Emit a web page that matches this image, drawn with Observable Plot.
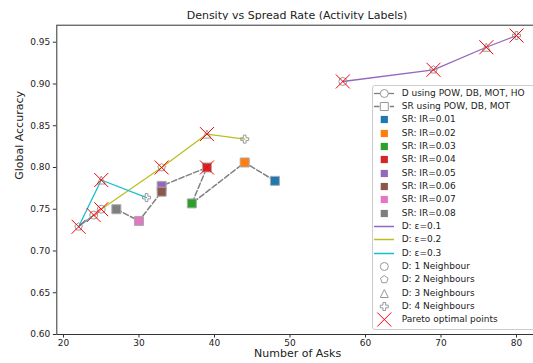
<!DOCTYPE html>
<html><head><meta charset="utf-8">
<script src="https://cdn.jsdelivr.net/npm/d3@7"></script>
<script src="https://cdn.jsdelivr.net/npm/@observablehq/plot@0.6"></script>
<style>
body{margin:0;overflow:hidden;background:white;font-family:"DejaVu Sans",sans-serif;}
#wrap{position:relative;width:533px;height:363px;overflow:hidden;background:white;}
#title{position:absolute;left:0;width:594px;top:9px;text-align:center;font-size:11px;line-height:13px;color:#222;}
#chart{position:absolute;left:0;top:20px;}
#legend{position:absolute;left:372px;top:85px;width:175px;height:243px;border:1px solid #ccc;border-radius:3px;background:rgba(255,255,255,0.85);}
.row{position:absolute;left:0;height:13px;font-size:9px;line-height:13px;color:#222;white-space:nowrap;}
.row svg{position:absolute;left:0;top:0;}
.row span{position:absolute;left:28.7px;top:0;}
</style></head><body>
<div id="wrap"><div id="title">Density vs Spread Rate (Activity Labels)</div><div id="chart"></div><div id="legend"></div></div>
<script>
// ---- data ----
const xTicks = [20, 30, 40, 50, 60, 70, 80];
const yTicks = [0.60, 0.65, 0.70, 0.75, 0.80, 0.85, 0.90, 0.95];

const irLabels = ["0.01", "0.02", "0.03", "0.04", "0.05", "0.06", "0.07", "0.08"];
const srColors = ["#1f77b4", "#ff7f0e", "#2ca02c", "#d62728", "#9467bd", "#8c564b", "#e377c2", "#7f7f7f"];
const srAsks = [48, 44, 37, 39, 33, 33, 30, 27];
const srAcc = [0.784, 0.806, 0.757, 0.800, 0.778, 0.771, 0.736, 0.750];

const epsLabels = ["0.1", "0.2", "0.3"];
const epsColors = ["#9467bd", "#bcbd22", "#17becf"];
const dAsksE1 = [57, 69, 76, 80];
const dAccE1 = [0.903, 0.917, 0.944, 0.958];
const dNbE1 = [1, 2, 3, 4];
const dAsksE2 = [25, 33, 39, 44];
const dAccE2 = [0.750, 0.800, 0.840, 0.834];
const dNbE2 = [1, 2, 3, 4];
const dAsksE3 = [24, 22, 25, 31];
const dAccE3 = [0.743, 0.729, 0.785, 0.764];
const dNbE3 = [1, 2, 3, 4];

const paretoAsks = [22, 24, 25, 25, 33, 39, 39, 57, 69, 76, 80];
const paretoAcc = [0.729, 0.743, 0.750, 0.785, 0.800, 0.840, 0.800, 0.903, 0.917, 0.944, 0.958];

const nbLabels = ["D: 1 Neighbour", "D: 2 Neighbours", "D: 3 Neighbours", "D: 4 Neighbours"];

// ---- symbols ----
const circleSym = {draw(ctx, size){const r = Math.sqrt(size/Math.PI); ctx.moveTo(r,0); ctx.arc(0,0,r,0,2*Math.PI); ctx.closePath();}};
const pentSym = {draw(ctx, size){const r = Math.sqrt(size/Math.PI); for(let i=0;i<5;i++){const a=-Math.PI/2+i*2*Math.PI/5; const x=r*Math.cos(a), y=r*Math.sin(a); if(i) ctx.lineTo(x,y); else ctx.moveTo(x,y);} ctx.closePath();}};
const triSym = {draw(ctx, size){const r = Math.sqrt(size/Math.PI); ctx.moveTo(0,-r); ctx.lineTo(r,r); ctx.lineTo(-r,r); ctx.closePath();}};
const plusSym = {draw(ctx, size){const r = Math.sqrt(size/Math.PI), a = r/3; const pts=[[-a,-r],[a,-r],[a,-a],[r,-a],[r,a],[a,a],[a,r],[-a,r],[-a,a],[-r,a],[-r,-a],[-a,-a]]; pts.forEach((p,i)=> i ? ctx.lineTo(p[0],p[1]) : ctx.moveTo(p[0],p[1])); ctx.closePath();}};
const squareSym = {draw(ctx, size){const r = Math.sqrt(size/Math.PI); ctx.rect(-r,-r,2*r,2*r);}};
const xSym = {draw(ctx, size){const r = Math.sqrt(size/Math.PI); ctx.moveTo(-r,-r); ctx.lineTo(r,r); ctx.moveTo(r,-r); ctx.lineTo(-r,r);}};
const nbSyms = [circleSym, pentSym, triSym, plusSym];

// ---- tables ----
const srTable = srAsks.map((a, i) => ({asks: a, acc: srAcc[i], ir: irLabels[i]}));
const dSeries = [[dAsksE1, dAccE1, dNbE1], [dAsksE2, dAccE2, dNbE2], [dAsksE3, dAccE3, dNbE3]];
const dTable = dSeries.flatMap(([xs, ys, nbs], k) => xs.map((a, i) => ({asks: a, acc: ys[i], nb: nbs[i], eps: epsLabels[k]})));
const paretoTable = paretoAsks.map((a, i) => ({asks: a, acc: paretoAcc[i]}));

const marks = [
  Plot.axisX({ticks: xTicks, tickSize: 3.5, tickPadding: 2, label: null, stroke: "#333"}),
  Plot.axisY({ticks: yTicks, tickSize: 3.5, tickPadding: 3, tickFormat: d3.format(".2f"), label: null, stroke: "#333"}),
  Plot.text(["Number of Asks"], {text: d => d, frameAnchor: "bottom", dy: 22.5, fontSize: 11, fill: "#222"}),
  Plot.text(["Global Accuracy"], {text: d => d, frameAnchor: "left", dx: -37, rotate: -90, fontSize: 11, fill: "#222"}),
  Plot.line(srTable, {x: "asks", y: "acc", stroke: "#808080", strokeWidth: 1.5, strokeDasharray: "5.5,2.4"})
];
epsLabels.forEach((e, k) => {
  marks.push(Plot.line(dTable.filter(d => d.eps === e), {x: "asks", y: "acc", stroke: epsColors[k], strokeWidth: 1.3}));
});
marks.push(Plot.dot(srTable, {x: "asks", y: "acc", fill: "ir", symbol: squareSym, r: 4.5, stroke: "#aaa", strokeWidth: 1}));
[1, 2, 3, 4].forEach(n => {
  marks.push(Plot.dot(dTable.filter(d => d.nb === n), {x: "asks", y: "acc", symbol: nbSyms[n-1], r: 4, stroke: "#999", fill: "none", strokeWidth: 1}));
});
marks.push(Plot.dot(paretoTable, {x: "asks", y: "acc", symbol: xSym, r: 7, stroke: "#ff0000", fill: "none", strokeWidth: 1}));
marks.push(Plot.frame({stroke: "#333", strokeWidth: 1}));

const chart = Plot.plot({
  width: 533, height: 343,
  marginLeft: 56.3, marginRight: -4.9, marginTop: 4.7, marginBottom: 29,
  style: {fontFamily: "DejaVu Sans", fontSize: "9px", color: "#222", background: "white"},
  x: {domain: [19.113, 82.9]},
  y: {domain: [0.6, 0.9704]},
  color: {domain: irLabels, range: srColors},
  marks
});
document.getElementById("chart").appendChild(chart);

// ---- legend ----
const legend = d3.select("#legend");
const rows = [];
rows.push({label: "D using POW, DB, MOT, HO", kind: "dline"});
rows.push({label: "SR using POW, DB, MOT", kind: "srline"});
irLabels.forEach((ir, i) => rows.push({label: "SR: IR=" + ir, kind: "sq", color: srColors[i]}));
epsLabels.forEach((e, i) => rows.push({label: "D: \u03b5=" + e, kind: "line", color: epsColors[i]}));
nbLabels.forEach((l, i) => rows.push({label: l, kind: "nb", sym: nbSyms[i]}));
rows.push({label: "Pareto optimal points", kind: "x"});
const symPath = (sym, r) => { const p = d3.path(); sym.draw(p, r*r*Math.PI); return p.toString(); };
const cx = 11.3, cy = 6.5;
rows.forEach((row, i) => {
  const div = legend.append("div").attr("class", "row").style("top", (0.8 + i*13.33) + "px").style("width", "170px");
  const svg = div.append("svg").attr("width", 26).attr("height", 13).style("overflow", "visible");
  const g = svg.append("g");
  if (row.kind === "dline" || row.kind === "srline") {
    g.append("line").attr("x1", 1).attr("x2", 21).attr("y1", cy).attr("y2", cy).attr("stroke", "#808080").attr("stroke-width", 1.3)
      .attr("stroke-dasharray", row.kind === "srline" ? "5.5,2.4" : null);
    g.append("path").attr("transform", `translate(${cx},${cy})`).attr("d", symPath(row.kind === "dline" ? circleSym : squareSym, 4))
      .attr("fill", "white").attr("stroke", "#999");
  } else if (row.kind === "sq") {
    g.append("path").attr("transform", `translate(${cx},${cy})`).attr("d", symPath(squareSym, 3.6)).attr("fill", row.color);
  } else if (row.kind === "line") {
    g.append("line").attr("x1", 1).attr("x2", 21).attr("y1", cy).attr("y2", cy).attr("stroke", row.color).attr("stroke-width", 1.5);
  } else if (row.kind === "nb") {
    g.append("path").attr("transform", `translate(${cx},${cy})`).attr("d", symPath(row.sym, 4)).attr("fill", "none").attr("stroke", "#999");
  } else {
    g.append("path").attr("transform", `translate(${cx},${cy})`).attr("d", symPath(xSym, 7)).attr("fill", "none").attr("stroke", "#ff0000");
  }
  div.append("span").text(row.label);
});
</script></body></html>
